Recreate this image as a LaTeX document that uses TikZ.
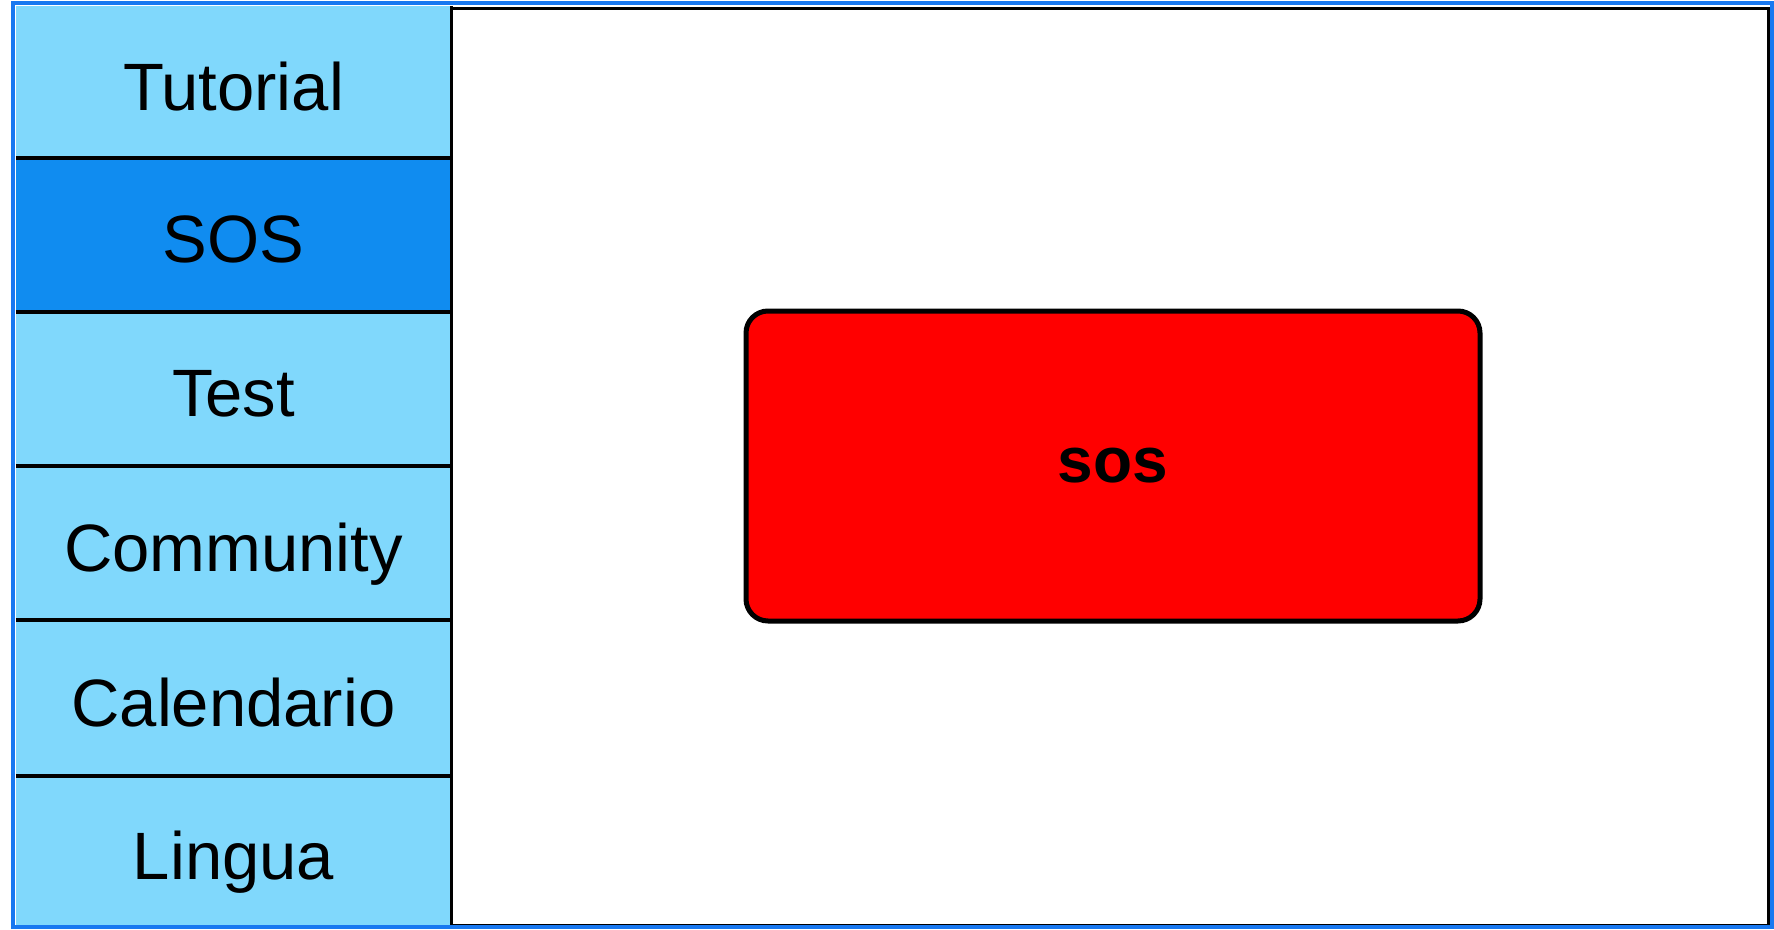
\documentclass[tikz,border=0pt]{standalone}
\usepackage{fontspec}
\setmainfont{Liberation Sans}
\definecolor{lightsky}{RGB}{128,216,252}
\definecolor{activeblue}{RGB}{16,140,240}
\definecolor{framecol}{RGB}{24,120,240}
\begin{document}
\begin{tikzpicture}[x=1pt,y=-1pt,
  menucell/.style={rectangle, inner sep=0pt, minimum width=435pt, fill=lightsky,
    font=\fontsize{67}{80}\selectfont, text=black},
  menutext/.style={inner sep=0pt, text depth=0pt, font=\fontsize{67}{80}\selectfont, text=black},
  divider/.style={draw=black, line width=4.5pt},
  panelbox/.style={rectangle, draw=black, line width=3pt, fill=white, inner sep=0pt,
    minimum width=1317pt, minimum height=917pt},
  alertbox/.style={rectangle, draw=black, line width=5pt, fill=red, rounded corners=22pt,
    inner sep=0pt, minimum width=734pt, minimum height=310pt,
    font=\bfseries\fontsize{64}{76}\selectfont}
]
\useasboundingbox (0,0) rectangle (1774,929);
\fill[white] (0,0) rectangle (1774,929);
% right panel
\node[panelbox] (panel) at (1109.5,466.5) {};
% sidebar cells
\node[menucell, minimum height=152pt] (tut) at (233.5,82) {};
\node[menucell, minimum height=154pt, fill=activeblue] (sos) at (233.5,235) {};
\node[menucell, minimum height=154pt] (test) at (233.5,389) {};
\node[menucell, minimum height=154pt] (comm) at (233.5,543) {};
\node[menucell, minimum height=156pt] (cal) at (233.5,698) {};
\node[menucell, minimum height=150pt] (ling) at (233.5,851) {};
% labels
\node[menutext] (tutl) at ([yshift=-4pt]tut.center) {Tutorial};
\node[menutext] (sosl) at ([yshift=-4pt]sos.center) {SOS};
\node[menutext] (testl) at ([yshift=-4pt]test.center) {Test};
\node[menutext] (comml) at ([yshift=-4pt]comm.center) {Community};
\node[menutext] (call) at ([yshift=-4pt]cal.center) {Calendario};
\node[menutext] (lingl) at ([yshift=-4pt]ling.center) {Lingua};
% dividers
\draw[divider] (tut.south west) -- (tut.south east);
\draw[divider] (sos.south west) -- (sos.south east);
\draw[divider] (test.south west) -- (test.south east);
\draw[divider] (comm.south west) -- (comm.south east);
\draw[divider] (cal.south west) -- (cal.south east);
\draw[draw=black, line width=3pt] (tut.north east) -- (ling.south east);
% central alert box
\node[alertbox] (alert) at (1113,466) {sos};
% outer frame
\draw[framecol, line width=4pt] (13,3) rectangle (1772,927);
\end{tikzpicture}
\end{document}
